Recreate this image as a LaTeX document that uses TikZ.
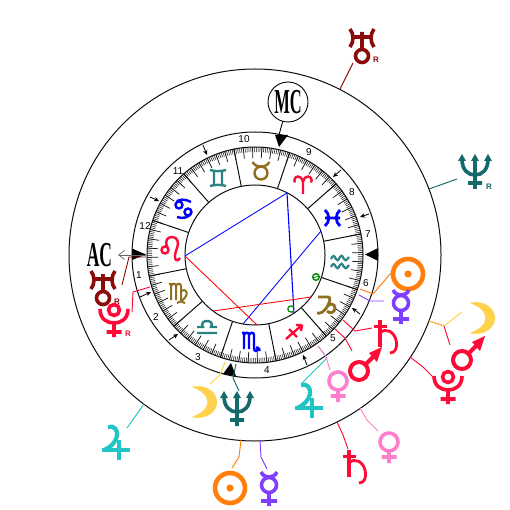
\documentclass[tikz,border=0pt]{standalone}
\usepackage{graphicx}
\usepackage{fontspec}
\setmainfont{Liberation Sans}
\newfontfamily\serifcap{Liberation Serif}
\usetikzlibrary{arrows.meta,calc}
\definecolor{cOrange}{HTML}{FF7F0A}
\definecolor{cPurple}{HTML}{7F3FFF}
\definecolor{cYellow}{HTML}{FFD24D}
\definecolor{cTeal}{HTML}{14696B}
\definecolor{cDark}{HTML}{8B0A0A}
\definecolor{cRed}{HTML}{FF0A37}
\definecolor{cPink}{HTML}{FF7FCC}
\definecolor{cCyan}{HTML}{22C5C5}
\definecolor{cBrown}{HTML}{8F7020}
\definecolor{cSea}{HTML}{2A8285}
\definecolor{cGreen}{HTML}{0A8A0A}
\tikzset{
 x=1pt,y=-1pt,
 ringline/.style={line width=1pt,black!95},
 conn/.style={line width=0.95pt},
 asp/.style={line width=0.85pt},
 zod/.style={line width=2.4pt},
 pl/.style={line width=3.6pt},
 housenum/.style={font=\fontsize{10}{10}\selectfont},
 retro/.style={font=\bfseries\fontsize{8}{8}\selectfont},
 cusp/.style={line width=0.8pt,-{Stealth[length=5pt,width=4.5pt]}},
 angl/.style={fill=black},
 sunp/.pic={\draw[line width=4.6pt] (0,0) circle (15);\fill (0,0) circle (3.6);},
 mercp/.pic={\draw[pl] (0,0) circle (7.5) (-8,-13) .. controls (-6,-9) and (-3,-8) .. (0,-8) .. controls (3,-8) and (6,-9) .. (8,-13) (0,8) -- (0,21) (-8,16) -- (8,16);},
 venp/.pic={\draw[pl] (0,0) circle (9) (0,9) -- (0,21) (-7.5,15) -- (7.5,15);},
 marp/.pic={\draw[line width=4pt] (0,0) circle (9) (6,-6) -- (16,-16);\fill (23,-24) -- (10,-18) -- (18,-9) -- cycle;},
 satp/.pic={\draw[line width=4pt] (0,0) -- (0,27);\draw[line width=3pt] (-6.5,6) -- (6.5,6);\draw[line width=2.8pt] (0,13) .. controls (6,7) and (14,12) .. (16,20) .. controls (18,28) and (15,33) .. (10,33);},
 urap/.pic={\draw[pl] (0,0) circle (6.5) (0,-24) -- (0,-7) (-9,-19) -- (9,-19) (-12,-27) .. controls (-8,-22) and (-8,-14) .. (-12,-9) (12,-27) .. controls (8,-22) and (8,-14) .. (12,-9);},
 nepp/.pic={\draw[pl] (0,-11) -- (0,19) (-7,13) -- (7,13) (-13,-11) .. controls (-13,0) and (-7,5) .. (0,5) .. controls (7,5) and (13,0) .. (13,-11);
   \fill (-13,-16) -- (-17,-9) -- (-9,-9) -- cycle (0,-16) -- (-4,-9) -- (4,-9) -- cycle (13,-16) -- (9,-9) -- (17,-9) -- cycle;},
 plup/.pic={\draw[pl] (0,0) circle (5.5) (-14,-1) .. controls (-14,9) and (-7,13) .. (0,13) .. controls (7,13) and (14,9) .. (14,-1) (0,13) -- (0,27) (-7.5,22) -- (7.5,22);},
 moonp/.pic={\filldraw[line width=1pt,line join=round] (-11,-15) .. controls (2,-17) and (12.5,-10) .. (12.5,0) .. controls (12.5,10) and (2,17) .. (-11,15) .. controls (-3,12) and (4,7) .. (4,0) .. controls (4,-7) and (-3,-12) .. (-11,-15) -- cycle;},
 jupp/.pic={\draw[line width=4.2pt] (-11,-23) .. controls (-5,-25) and (-1,-20) .. (-2,-14) .. controls (-3,-8) and (-9,-2) .. (-15,0);\draw[line width=3.2pt] (-17,0) -- (11,0);\draw[line width=4.4pt] (0,-10) -- (0,10);},
 % zodiac
 tauz/.pic={\draw[zod] (0,3) circle (6.5) (-8.5,-8) .. controls (-6,-4) and (-3,-3.5) .. (0,-3.5) .. controls (3,-3.5) and (6,-4) .. (8.5,-8);},
 gemz/.pic={\draw[zod] (-8,-8) .. controls (-3,-6.5) and (3,-6.5) .. (8,-8) (-8,8) .. controls (-3,6.5) and (3,6.5) .. (8,8) (-4,-7) -- (-4,7) (4,-7) -- (4,7);},
 canz/.pic={\draw[zod] (-5,-3) circle (3.5) (4,4) circle (3.5) (-8.5,-4) .. controls (-7,-10) and (2,-9) .. (7,-6) (7.5,4) .. controls (6,10) and (-2,11) .. (-7,9);},
 leoz/.pic={\draw[zod] (-5,0) circle (3.5) (-2.5,-2.5) .. controls (-6,-10) and (-2,-13) .. (2,-13) .. controls (8,-13) and (9,-7) .. (7,-2) .. controls (5,3) and (4,8) .. (6,10) .. controls (7,11) and (9,10) .. (10,8);},
 virz/.pic={\draw[line width=2pt] (-9,-9) .. controls (-7,-10) and (-7,-9) .. (-7,-7) -- (-7,7) (-7,-7) .. controls (-6,-10) and (-2,-10) .. (-2,-7) -- (-2,7) (-2,-7) .. controls (-1,-10) and (3,-10) .. (3,-7) -- (3,6) .. controls (3,9) and (5,10) .. (7,10) (3,-2) .. controls (8,-5) and (10,0) .. (8,3) .. controls (6,7) and (2,9) .. (-1,10);},
 libz/.pic={\draw[zod] (-10,6) -- (10,6) (-10,0) -- (-4,0) .. controls (-9,-8) and (9,-8) .. (4,0) -- (10,0);},
 scoz/.pic={\draw[zod] (-8,-9) .. controls (-6,-10) and (-6,-9) .. (-6,-7) -- (-6,7) (-6,-7) .. controls (-5,-10) and (-1,-10) .. (-1,-7) -- (-1,7) (-1,-7) .. controls (0,-10) and (4,-10) .. (4,-7) -- (4,6) .. controls (4,10) and (7,10) .. (9,6) (9,6) -- (6,5.5) (9,6) -- (9.5,9);},
 sagz/.pic={\draw[zod] (-7,7) -- (9,-7) (9,-7) -- (3,-7) (9,-7) -- (8,-1) (-4,-3) -- (4,5);},
 capz/.pic={\draw[line width=2.8pt] (-8,-8) -- (2,-8) .. controls (5,-8) and (4,-3) .. (1,2) .. controls (-2,7) and (-6,9) .. (-9,8) (1,2) .. controls (3,-2) and (9,-2) .. (9,3) .. controls (9,8) and (3,9) .. (1,6);},
 aquz/.pic={\draw[line width=2.2pt] (-9,-3) .. controls (-7,-7) and (-6,-7) .. (-4,-3) .. controls (-3,-1) and (-2,-1) .. (0,-5) .. controls (1,-7) and (2,-7) .. (4,-3) .. controls (5,-1) and (6,-1) .. (9,-5) (-9,5) .. controls (-7,1) and (-6,1) .. (-4,5) .. controls (-3,7) and (-2,7) .. (0,3) .. controls (1,1) and (2,1) .. (4,5) .. controls (5,7) and (6,7) .. (9,3);},
 pisz/.pic={\draw[line width=2.8pt] (-8,-8) .. controls (-3,-4) and (-3,4) .. (-8,8) (7,-8) .. controls (2,-4) and (2,4) .. (7,8) (-8,0) -- (7,0);},
 ariz/.pic={\draw[zod] (0,-3) -- (0,11) (0,-1) .. controls (-1,-5) and (-3,-6.5) .. (-5,-6.5) .. controls (-8,-6.5) and (-9.5,-3) .. (-8,-0.5) (0,-1) .. controls (1,-5) and (3,-6.5) .. (5,-6.5) .. controls (8,-6.5) and (9.5,-3) .. (8,-0.5);},
}
\begin{document}
\begin{tikzpicture}
\useasboundingbox (0,0) rectangle (510,510);
\coordinate (c) at (255,255);
% free ends of the connectors
\foreach \n/\x/\y in {ua/340/89,ub/353/63,na/429/189,nb/457/179,
 si/360/289,sj/373/294,sk/391/273,mi/359/295,mj/370/301,mk/384/301,
 ti/343/320,tj/355/331,tk/372/328,ai/335/329,aj/345/338,ak/352/351,
 vi/318/346,vj/326/357,vk/330/370,ji/318/346,jj/327/358,jk/302/383,
 oi/225/362,oj/220/375,ok/210/384,ei/236/364,ej/233/378,ek/239/391,
 ja/144/404,jb/127/428,sa/241/440,sb/239/457,sc/232/468,
 ma/260/440,mb/261/457,mc/267/469,ta/337/422,tb/343/435,tc/348/449,
 va/360/408,vb/367/420,vc/378/431,pa/410/357,pb/423/367,pc/433/377,
 oa/429/321,ob/444/326,oc/462/312,aa/429/321,ab/444/326,ac/450/345,
 ri/146/257,rj/129/257,rk/122/285,li/150/287,lj/133/292,lk/132/312,
 A/185/256,B/287/193,C/294/313,D/321/231,E/243/324,F/257/325,G/213/311,H/311/297,
 acA/146/255,acB/118/255,mcT/279/135}
 {\coordinate (\n) at (\x,\y);}
% circles
\draw[ringline] (c) circle (186) (c) circle (123) (c) circle (108) (c) circle (70);
% degree ticks
\foreach \d in {0,...,359}{\draw[line width=0.55pt,black!90] ($(c)+({-\d-1.3}:103)$) -- ($(c)+({-\d-1.3}:108)$);}
\foreach \d in {0,5,...,355}{\draw[line width=0.75pt,black!90] ($(c)+({-\d-1.3}:97)$) -- ($(c)+({-\d-1.3}:108)$);}
% sign dividers
\foreach \d in {11.3,41.3,...,341.3}{\draw[ringline] ($(c)+({-\d}:70)$) -- ($(c)+({-\d}:108)$);}
% house cusp arrows
\foreach \a/\b/\p/\q in {203/145/207/155,150/197/159/201,341/170/333/177,369/214/360/217,140/297/151/292,169/340/178/334,360/314/352/308,307/365/303/355}
 {\coordinate (p0) at (\a,\b);\coordinate (p1) at (\p,\q);\draw[cusp] (p0) -- (p1);}
% house numbers
\node[housenum] (h10) at (244,139) {10};
\node[housenum] (h9) at (309,152) {9};
\node[housenum] (h8) at (352,192) {8};
\node[housenum] (h7) at (368,234) {7};
\node[housenum] (h6) at (366,283) {6};
\node[housenum] (h5) at (333,338) {5};
\node[housenum] (h4) at (267,370) {4};
\node[housenum] (h3) at (198,357) {3};
\node[housenum] (h2) at (156,317) {2};
\node[housenum] (h1) at (139,275) {1};
\node[housenum] (h12) at (145,226) {12};
\node[housenum] (h11) at (178,171) {11};
% zodiac
\pic[color=cBrown] at (261,170) {tauz};
\pic[color=cSea] at (218,178) {gemz};
\pic[color=blue] at (184,208) {canz};
\pic[color=cRed] at (170,250) {leoz};
\pic[color=cBrown] at (178,293) {virz};
\pic[color=cSea] at (207,327) {libz};
\pic[color=blue] at (250,342) {scoz};
\pic[color=cRed] at (293,332) {sagz};
\pic[color=cBrown] at (326,305) {capz};
\pic[color=cSea] at (340,262) {aquz};
\pic[color=blue] at (333,218) {pisz};
\pic[color=cRed] at (303,183) {ariz};
% aspects
\draw[asp,blue] (A) -- (B) (D) -- (E);
\draw[line width=1.1pt,blue] (B) -- (C);
\draw[asp,red] (A) -- (F) (G) -- (H);
% nodes on the chart
\draw[line width=1.5pt,cGreen] (316,277) circle (3.3);
\draw[line width=0.8pt,cGreen] (313.5,278) -- (318.5,276);
\draw[line width=1.3pt,cGreen] (293.5,307) arc[start angle=-40,end angle=-320,radius=3.2];
% angle triangles
\fill[angl] (275,135) -- (288,135) -- (279,147) -- cycle;
\fill[angl] (132,248.5) -- (132,260) -- (146,254.5) -- cycle;
\fill[angl] (378,248) -- (378,261) -- (365,254.5) -- cycle;
\fill[angl] (223,374) -- (236,376) -- (231,363) -- cycle;
% MC / AC
\node[circle,draw,line width=0.9pt,minimum size=40pt,inner sep=0pt] (mcn) at (288,102) {\scalebox{0.47}[1]{\serifcap\bfseries\fontsize{35}{35}\selectfont MC}};
\draw[line width=0.9pt] (mcn) -- (mcT);
\node[inner sep=0pt] (acn) at (99.5,255.5) {\scalebox{0.5}[1]{\serifcap\bfseries\fontsize{35}{35}\selectfont AC}};
\draw[line width=0.7pt,black!60,-{Straight Barb[length=6pt,width=9pt]}] (acA) -- (acB);
% connectors
\draw[conn,cDark] (ua) -- (ub);
\draw[conn,cTeal] (na) -- (nb);
\draw[conn,cOrange] (si) -- (sj) -- (sk);
\draw[conn,cPurple] (mi) -- (mj) -- (mk);
\draw[conn,cRed] (ti) -- (tj) -- (tk);
\draw[conn,cRed] (ai) -- (aj) -- (ak);
\draw[conn,cCyan] (ji) -- (jj) -- (jk);
\draw[conn,cPink] (vi) -- (vj) -- (vk);
\draw[conn,cYellow] (oi) -- (oj) -- (ok);
\draw[conn,cTeal] (ei) -- (ej) -- (ek);
\draw[conn,cCyan] (ja) -- (jb);
\draw[conn,cOrange] (sa) -- (sb) -- (sc);
\draw[conn,cPurple] (ma) -- (mb) -- (mc);
\draw[conn,cRed] (ta) -- (tb) -- (tc);
\draw[conn,cPink] (va) -- (vb) -- (vc);
\draw[conn,cRed] (pa) -- (pb) -- (pc);
\draw[conn,cRed] (aa) -- (ab) -- (ac);
\draw[conn,cYellow] (oa) -- (ob) -- (oc);
\draw[conn,cDark] (ri) -- (rj) -- (rk);
\draw[conn,cRed] (li) -- (lj) -- (lk);
% planets
\pic[color=cDark] at (362,56) {urap};
\node[retro,text=cDark] (ru1) at (376,60) {R};
\pic[color=cTeal] at (475,170) {nepp};
\node[retro,text=cTeal] (rn1) at (489,187) {R};
\pic[color=cOrange] at (408,274) {sunp};
\pic[color=cPurple] at (401,303) {mercp};
\pic[color=cYellow] at (482,318) {moonp};
\pic[color=cRed] at (380,320) {satp};
\pic[color=cRed] at (462,360) {marp};
\pic[color=cRed] at (359,371) {marp};
\pic[color=cRed] at (448,377) {plup};
\pic[color=cPink] at (338,381) {venp};
\pic[color=cCyan] at (312,408) {jupp};
\pic[color=cPink] at (389,442) {venp};
\pic[color=cRed] at (349,450) {satp};
\pic[color=cPurple] at (269,485) {mercp};
\pic[color=cOrange] at (230,488) {sunp};
\pic[color=cCyan] at (119,450) {jupp};
\pic[color=cYellow] at (204,402) {moonp};
\pic[color=cTeal] at (237,407) {nepp};
\pic[color=cDark] at (103,298) {urap};
\node[retro,text=cDark] (ru2) at (117,302) {R};
\pic[color=cRed] at (114,310) {plup};
\node[retro,text=cRed] (rp2) at (128,334) {R};
\end{tikzpicture}
\end{document}
